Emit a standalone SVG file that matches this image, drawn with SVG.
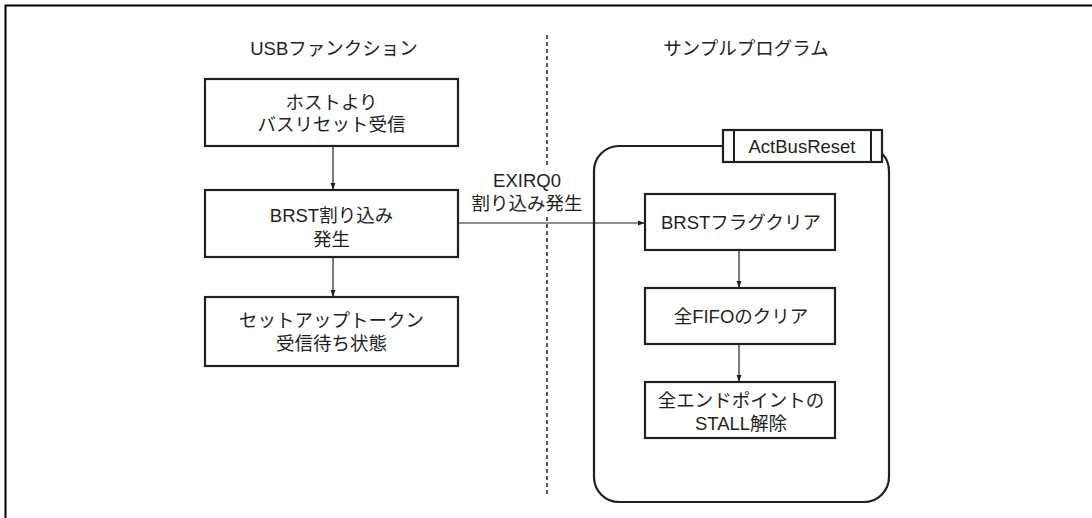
<svg xmlns="http://www.w3.org/2000/svg" width="1092" height="518" viewBox="0 0 1092 518">
<defs>
<marker id="ah" viewBox="0 0 10 10" refX="10" refY="5" markerWidth="9" markerHeight="7" markerUnits="userSpaceOnUse" orient="auto">
<path d="M0,1.5 L10,5 L0,8.5 Z" fill="#231f20"/>
</marker>
<style>
.t{font-family:"Liberation Sans","Noto Sans CJK JP",sans-serif;font-size:18.5px;fill:#231f20;text-anchor:middle;dominant-baseline:central}
.box{fill:#fff;stroke:#231f20;stroke-width:2.2}
.ln{fill:none;stroke:#231f20;stroke-width:1.2}
</style>
</defs>
<rect width="1092" height="518" fill="#fff"/>
<g id="frame">
<path d="M5.5,518 V5.5 H1092" fill="none" stroke="#000" stroke-width="2"/>
</g>
<g id="divider">
<line x1="547" y1="35" x2="547" y2="496" stroke="#231f20" stroke-width="1.5" stroke-dasharray="4 3"/>
</g>
<g id="titles">
<text class="t" x="334" y="48">USBファンクション</text>
<text class="t" x="746" y="48">サンプルプログラム</text>
</g>
<g id="container">
<rect x="594" y="146" width="295" height="356" rx="25" ry="25" fill="none" stroke="#231f20" stroke-width="2.2"/>
</g>
<g id="label-ActBusReset">
<rect class="box" x="723" y="130" width="159" height="32"/>
<line x1="734" y1="130" x2="734" y2="162" stroke="#231f20" stroke-width="2"/>
<line x1="871" y1="130" x2="871" y2="162" stroke="#231f20" stroke-width="2"/>
<text class="t" x="802" y="146">ActBusReset</text>
</g>
<g id="connectors">
<line class="ln" x1="333" y1="146" x2="333" y2="190" marker-end="url(#ah)"/>
<line class="ln" x1="333" y1="257" x2="333" y2="297" marker-end="url(#ah)"/>
<line class="ln" x1="458" y1="223" x2="645" y2="223" marker-end="url(#ah)"/>
<line class="ln" x1="739" y1="250" x2="739" y2="288" marker-end="url(#ah)"/>
<line class="ln" x1="739" y1="344" x2="739" y2="382" marker-end="url(#ah)"/>
<rect x="470" y="167" width="114" height="47" fill="#fff"/>
<text class="t" x="527" y="180">EXIRQ0</text>
<text class="t" x="527" y="203">割り込み発生</text>
</g>
<g id="n1">
<rect class="box" x="205" y="79" width="253" height="67"/>
<text class="t" x="331.5" y="102">ホストより</text>
<text class="t" x="331.5" y="124">バスリセット受信</text>
</g>
<g id="n2">
<rect class="box" x="205" y="190" width="253" height="67"/>
<text class="t" x="331.5" y="215">BRST割り込み</text>
<text class="t" x="331.5" y="239">発生</text>
</g>
<g id="n3">
<rect class="box" x="205" y="297" width="253" height="69"/>
<text class="t" x="331.5" y="320">セットアップトークン</text>
<text class="t" x="331.5" y="343">受信待ち状態</text>
</g>
<g id="n4">
<rect class="box" x="645" y="194" width="190" height="56"/>
<text class="t" x="741" y="222">BRSTフラグクリア</text>
</g>
<g id="n5">
<rect class="box" x="645" y="288" width="190" height="56"/>
<text class="t" x="741" y="316">全FIFOのクリア</text>
</g>
<g id="n6">
<rect class="box" x="645" y="382" width="190" height="56"/>
<text class="t" x="741" y="400">全エンドポイントの</text>
<text class="t" x="741" y="423">STALL解除</text>
</g>
</svg>
